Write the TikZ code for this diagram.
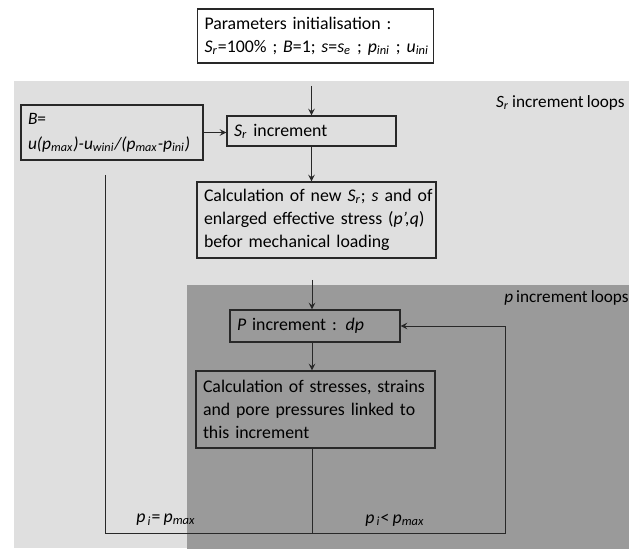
\documentclass[tikz,border=0pt]{standalone}
\usepackage{fontspec}
\setmainfont{Carlito}[WordSpace=0.8]
\usepackage{tikz}
\usetikzlibrary{arrows,positioning,calc,backgrounds}
\definecolor{lightzone}{RGB}{223,223,223}
\definecolor{darkzone}{RGB}{154,154,154}
\definecolor{ink}{RGB}{40,40,40}
\newcommand{\vs}[2]{\textit{#1}\textsubscript{\textit{#2}}}
\begin{document}
\begin{tikzpicture}[x=0.5pt,y=-0.5pt,font=\fontsize{8.9}{11.6}\selectfont,block/.style={draw=ink,line width=0.7pt,align=left,inner xsep=3.5pt,inner ysep=0pt,text=black}, edge/.style={line width=0.45pt,draw=ink,->,>=stealth},line/.style={line width=0.45pt,draw=ink},zone/.style={text=black,anchor=east,inner sep=0pt,font=\fontsize{8.6}{10}\selectfont}]
\useasboundingbox (0,0) rectangle (636,549);
\fill[lightzone] (14,81) rectangle (629,548);
\fill[darkzone] (187,285) rectangle (629,549);

\node(init)[block,text width=111pt,minimum height=27pt] at (315.5,36) {Parameters initialisation :\\ \mbox{\vs{S}{r}=100\% ; \textit{B}=1; \textit{s}=\vs{s}{e} ; \vs{p}{ini} ; \vs{u}{ini}}};
\node(B)[block,text width=84pt,minimum height=27.5pt,font=\fontsize{8.7}{12.4}\selectfont] at (112,132.5) {\textit{B}=\\ \mbox{\textit{u(}\vs{p}{max}\textit{)-}\vs{u}{wini}\textit{/(}\vs{p}{max}\textit{-}\vs{p}{ini}\textit{)}}};
\node(Sr)[block,text width=77.5pt,minimum height=15pt] at (311.5,131) {\vs{S}{r} increment};
\node(calc)[block,text width=112.5pt,minimum height=38pt] at (316.5,220) {\mbox{Calculation of new \vs{S}{r}; \textit{s} and of}\\ \mbox{enlarged effective stress (\textit{p’,q})}\\ befor mechanical loading};
\node(P)[block,text width=78pt,minimum height=16pt] at (315,326) {\textit{P} increment : \textit{dp}};
\node(strs)[block,text width=112.5pt,minimum height=38.5pt] at (315.5,409.5) {\mbox{Calculation of stresses, strains}\\ \mbox{and pore pressures linked to}\\ this increment};

\node(srloop)[zone] at (625,103) {\vs{S}{r} increment loops};
\node(ploop)[zone] at (629,298) {\textit{p} increment loops};
\node(eq)[text=black,inner sep=0pt] at (166,520) {\textit{p}\textsubscript{\,\textit{i}}= \vs{p}{max}};
\node(lt)[text=black,inner sep=0pt] at (395,520) {\textit{p}\textsubscript{\,\textit{i}}< \vs{p}{max}};

\coordinate(in) at (311.5,86);
\coordinate(pin) at (312,280);
\coordinate(up) at (105,175);
\coordinate(bl) at (105,533);
\coordinate(br) at (505,533);

\draw [edge] (in) to (in |- Sr.north);
\draw [edge] (Sr.south) to (Sr.south |- calc.north);
\draw [edge] (B.east) to (Sr.west |- B.east);
\draw [edge] (pin) to (pin |- P.north);
\draw [edge] (pin |- P.south) to (pin |- strs.north);
\draw [line] (pin |- strs.south) to (pin |- bl);
\draw [edge] (up) -- (bl) -- (br) |- (P.east);
\end{tikzpicture}
\end{document}
